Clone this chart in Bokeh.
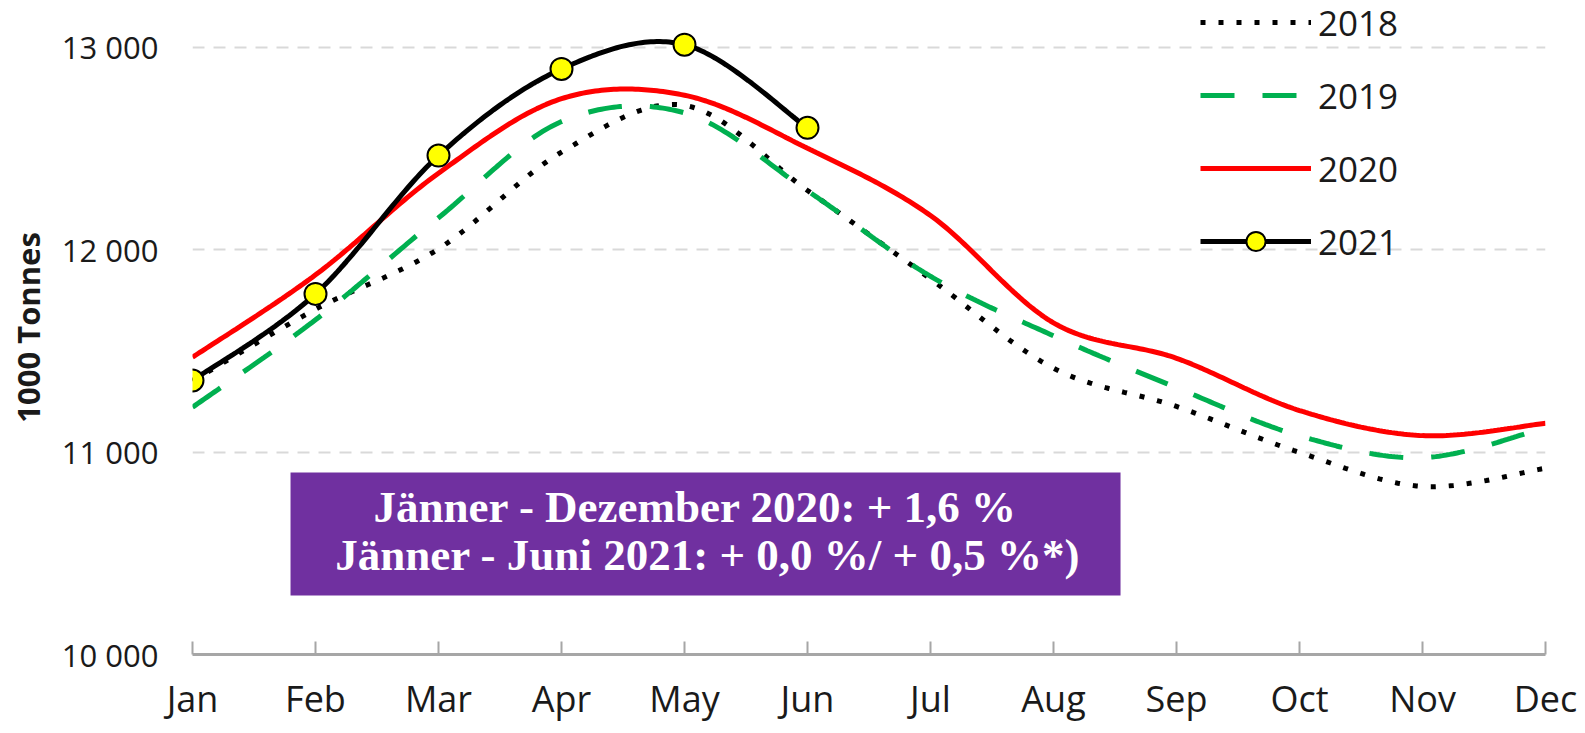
import numpy as np
from bokeh.plotting import figure
from bokeh.models import Range1d, FixedTicker, BoxAnnotation, Label, Legend, LegendItem
from bokeh.embed import file_html
from bokeh.resources import INLINE

months = ["Jan", "Feb", "Mar", "Apr", "May", "Jun", "Jul", "Aug", "Sep", "Oct", "Nov", "Dec"]
y2018 = [11350, 11705, 12003, 12481, 12712, 12292, 11855, 11414, 11225, 10998, 10830, 10920]
y2019 = [11221, 11653, 12157, 12632, 12675, 12290, 11868, 11574, 11318, 11080, 10972, 11120]
y2020 = [11468, 11875, 12377, 12745, 12762, 12500, 12168, 11638, 11463, 11205, 11081, 11142]
y2021 = [11353, 11781, 12464, 12892, 13012, 12601]
y_ticks = [10000, 11000, 12000, 13000]
grid_ticks = [11000, 12000, 13000]
series_names = ["2018", "2019", "2020", "2021"]
note_lines = ["Jänner - Dezember 2020: + 1,6 %", "Jänner - Juni  2021: + 0,0  %/ + 0,5 %*)"]


def smooth(xs, ys, n=40):
    """Excel-like smoothed line (Catmull-Rom Bezier) through the data points."""
    P = np.column_stack([np.asarray(xs, float), np.asarray(ys, float)])
    P = np.vstack([P[0], P, P[-1]])
    out = []
    for i in range(1, len(P) - 2):
        p0, p1, p2, p3 = P[i - 1], P[i], P[i + 1], P[i + 2]
        c1 = p1 + (p2 - p0) / 6.0
        c2 = p2 - (p3 - p1) / 6.0
        t = np.linspace(0, 1, n, endpoint=(i == len(P) - 3))[:, None]
        seg = (1 - t) ** 3 * p1 + 3 * (1 - t) ** 2 * t * c1 + 3 * (1 - t) * t ** 2 * c2 + t ** 3 * p2
        out.append(seg)
    out = np.vstack(out)
    return out[:, 0], out[:, 1]


xidx = list(range(len(months)))

p = figure(width=1577, height=725, x_range=Range1d(0, 11), y_range=Range1d(10000, 13230),
           output_backend="svg", toolbar_location=None,
           min_border_left=192, min_border_right=32, min_border_top=0, min_border_bottom=71)
p.outline_line_color = None
p.background_fill_color = "white"

# grid
p.xgrid.visible = False
p.ygrid.ticker = FixedTicker(ticks=grid_ticks)
p.ygrid.grid_line_color = "#d9d9d9"
p.ygrid.grid_line_width = 2
p.ygrid.grid_line_dash = "12 9"

# x axis
p.xaxis.ticker = FixedTicker(ticks=xidx)
p.xaxis.major_label_overrides = {i: m for i, m in enumerate(months)}
p.xaxis.axis_line_color = "#a6a6a6"
p.xaxis.axis_line_width = 3
p.xaxis.major_tick_line_color = "#a6a6a6"
p.xaxis.major_tick_line_width = 2
p.xaxis.major_tick_in = 13
p.xaxis.major_tick_out = 0
p.xaxis.minor_tick_line_color = None
p.xaxis.major_label_text_font = "Open Sans"
p.xaxis.major_label_text_font_size = "36px"
p.xaxis.major_label_text_color = "#1a1a1a"
p.xaxis.major_label_standoff = 19

# y axis
p.yaxis.ticker = FixedTicker(ticks=y_ticks)
p.yaxis.major_label_overrides = {v: f"{v:,}".replace(",", " ") for v in y_ticks}
p.yaxis.axis_line_color = None
p.yaxis.major_tick_line_color = None
p.yaxis.minor_tick_line_color = None
p.yaxis.major_tick_in = 0
p.yaxis.major_tick_out = 0
p.yaxis.major_label_standoff = 34
p.yaxis.major_label_text_font = "Open Sans"
p.yaxis.major_label_text_font_size = "31px"
p.yaxis.major_label_text_color = "#1a1a1a"
p.yaxis.axis_label = "1000 Tonnes"
p.yaxis.axis_label_text_font = "Open Sans"
p.yaxis.axis_label_text_font_style = "bold"
p.yaxis.axis_label_text_font_size = "31px"
p.yaxis.axis_label_text_color = "#1a1a1a"
p.yaxis.axis_label_standoff = 10

# note box
p.add_layout(BoxAnnotation(left=0.797, right=7.545, bottom=10291, top=10899,
                           fill_color="#7030A0", fill_alpha=1.0, line_color=None))
for txt, xc, yb in zip(note_lines, [4.09, 4.28], [10729, 10489]):
    p.add_layout(Label(x=xc, y=yb, text=txt, text_font="Liberation Serif",
                       text_font_style="bold", text_font_size="45px", text_color="white",
                       text_align="center", text_baseline="alphabetic"))

# series
sx, sy = smooth(xidx, y2018)
r18 = p.line(sx, sy, line_color="black", line_width=5, line_dash="5 13")
sx, sy = smooth(xidx, y2019)
r19 = p.line(sx, sy, line_color="#00B050", line_width=5, line_dash="34 28")
sx, sy = smooth(xidx, y2020)
r20 = p.line(sx, sy, line_color="#FF0000", line_width=5)
sx, sy = smooth(xidx[:len(y2021)], y2021)
r21 = p.line(sx, sy, line_color="black", line_width=5)
r21m = p.scatter(xidx[:len(y2021)], y2021, marker="circle", size=22,
                 fill_color="#FFFF00", line_color="black", line_width=2)

legend = Legend(items=[LegendItem(label=series_names[0], renderers=[r18]),
                       LegendItem(label=series_names[1], renderers=[r19]),
                       LegendItem(label=series_names[2], renderers=[r20]),
                       LegendItem(label=series_names[3], renderers=[r21, r21m])],
                location=(1008, 389), padding=0, margin=0, spacing=25,
                glyph_width=111, glyph_height=48, label_height=48, label_standoff=7,
                label_text_font="Open Sans", label_text_font_size="35px",
                label_text_color="#1a1a1a",
                background_fill_alpha=0, border_line_color=None)
p.add_layout(legend)

open("out.html", "w").write(file_html(p, INLINE))
